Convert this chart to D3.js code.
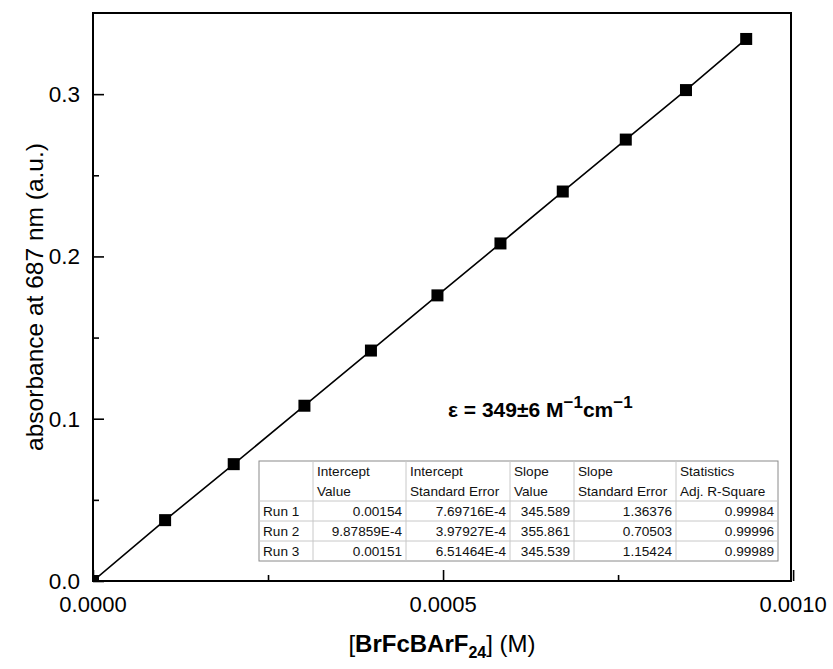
<!DOCTYPE html>
<html>
<head>
<meta charset="utf-8">
<script src="https://cdn.jsdelivr.net/npm/d3@7"></script>
<style>
  body { margin: 0; background: #ffffff; }
  svg { display: block; font-family: Arial, "Liberation Sans", sans-serif; }
</style>
</head>
<body>
<svg id="chart" width="833" height="669"></svg>
<script>
// ---- data ----
const concentration = [0, 0.000103, 0.000201, 0.000302, 0.000397, 0.000492, 0.000582, 0.000671, 0.000761, 0.000847, 0.000933];
const absorbance    = [0, 0.0375, 0.072, 0.108, 0.142, 0.176, 0.208, 0.240, 0.272, 0.3025, 0.334];

const xTicks = [0, 0.0005, 0.0010];
const xTickLabels = ["0.0000", "0.0005", "0.0010"];
const xMinorTicks = [0.00025, 0.00075];
const yTicks = [0, 0.1, 0.2, 0.3];
const yTickLabels = ["0.0", "0.1", "0.2", "0.3"];
const yMinorTicks = [0.05, 0.15, 0.25];

const tableHeader1 = ["", "Intercept", "Intercept", "Slope", "Slope", "Statistics"];
const tableHeader2 = ["", "Value", "Standard Error", "Value", "Standard Error", "Adj. R-Square"];
const tableRuns = ["Run 1", "Run 2", "Run 3"];
const interceptValue = ["0.00154", "9.87859E-4", "0.00151"];
const interceptSE = ["7.69716E-4", "3.97927E-4", "6.51464E-4"];
const slopeValue = ["345.589", "355.861", "345.539"];
const slopeSE = ["1.36376", "0.70503", "1.15424"];
const adjR2 = ["0.99984", "0.99996", "0.99989"];

// ---- layout ----
const svg = d3.select("#chart");
const L = 93, R = 791, T = 13, B = 581;
const x = d3.scaleLinear().domain([0, 0.000997]).range([L, R]);
const y = d3.scaleLinear().domain([0, 0.35]).range([B, T]);

// clip
svg.append("defs").append("clipPath").attr("id", "clip")
  .append("rect").attr("x", L).attr("y", T).attr("width", R - L).attr("height", B - T);

// line
const line = d3.line().x((d, i) => x(concentration[i])).y(d => y(d));
svg.append("path")
  .datum(absorbance)
  .attr("d", line)
  .attr("fill", "none")
  .attr("stroke", "#000")
  .attr("stroke-width", 1.6)
  .attr("clip-path", "url(#clip)");

// markers
const ms = 12;
svg.append("g").attr("clip-path", "url(#clip)")
  .selectAll("rect").data(absorbance).join("rect")
  .attr("x", (d, i) => x(concentration[i]) - ms / 2)
  .attr("y", d => y(d) - ms / 2)
  .attr("width", ms).attr("height", ms)
  .attr("fill", "#000");

// axes (ticks inward)
const xAxis = d3.axisBottom(x).tickValues(xTicks).tickSize(-11).tickPadding(0).tickFormat((d, i) => "");
const gx = svg.append("g").attr("transform", `translate(0,${B})`).call(xAxis);
gx.select(".domain").remove();
gx.selectAll(".tick line").attr("stroke", "#000").attr("stroke-width", 1.6);
svg.append("g").attr("transform", `translate(0,${B})`)
  .call(d3.axisBottom(x).tickValues(xMinorTicks).tickSize(-6).tickFormat(""))
  .call(g => g.select(".domain").remove())
  .call(g => g.selectAll(".tick line").attr("stroke", "#000").attr("stroke-width", 1.6));
svg.append("g").selectAll("text").data(xTicks).join("text")
  .attr("x", d => x(d)).attr("y", 612)
  .attr("text-anchor", "middle").attr("font-size", 22).attr("fill", "#000")
  .text((d, i) => xTickLabels[i]);

const yAxis = d3.axisLeft(y).tickValues(yTicks).tickSize(-11).tickFormat("");
const gy = svg.append("g").attr("transform", `translate(${L},0)`).call(yAxis);
gy.select(".domain").remove();
gy.selectAll(".tick line").attr("stroke", "#000").attr("stroke-width", 1.6);
svg.append("g").attr("transform", `translate(${L},0)`)
  .call(d3.axisLeft(y).tickValues(yMinorTicks).tickSize(-6).tickFormat(""))
  .call(g => g.select(".domain").remove())
  .call(g => g.selectAll(".tick line").attr("stroke", "#000").attr("stroke-width", 1.6));
svg.append("g").selectAll("text").data(yTicks).join("text")
  .attr("x", 80).attr("y", d => y(d) + 8)
  .attr("text-anchor", "end").attr("font-size", 22.5).attr("fill", "#000")
  .text((d, i) => yTickLabels[i]);

// frame
svg.append("rect").attr("x", L).attr("y", T).attr("width", R - L).attr("height", B - T)
  .attr("fill", "none").attr("stroke", "#000").attr("stroke-width", 2);

// axis titles
svg.append("text")
  .attr("transform", `translate(43,${(T + B) / 2}) rotate(-90)`)
  .attr("text-anchor", "middle").attr("font-size", 24.5).attr("fill", "#000")
  .text("absorbance at 687 nm (a.u.)");

const xt = svg.append("text").attr("x", (L + R) / 2).attr("y", 652)
  .attr("text-anchor", "middle").attr("font-size", 24).attr("fill", "#000");
xt.append("tspan").text("[");
xt.append("tspan").attr("font-weight", "bold").text("BrFcBArF");
xt.append("tspan").attr("font-weight", "bold").attr("font-size", 16).attr("dy", 6).text("24");
xt.append("tspan").attr("dy", -6).text("] (M)");

// epsilon annotation
const eps = svg.append("text").attr("x", 448).attr("y", 417)
  .attr("font-size", 21).attr("font-weight", "bold").attr("fill", "#000");
eps.append("tspan").text("ε = 349±6 M");
eps.append("tspan").attr("font-size", 17).attr("dy", -9).text("−1");
eps.append("tspan").attr("dy", 9).text("cm");
eps.append("tspan").attr("font-size", 17).attr("dy", -9).text("−1");

// table
const colW = [54, 93, 104, 64, 102, 102];
const tx0 = 259, ty0 = 461, rh = 20;
const colX = [tx0];
colW.forEach(w => colX.push(colX[colX.length - 1] + w));
const rows = [tableHeader1, tableHeader2].concat(tableRuns.map((r, i) =>
  [r, interceptValue[i], interceptSE[i], slopeValue[i], slopeSE[i], adjR2[i]]));
const tW = colX[colX.length - 1] - tx0, tH = rows.length * rh;
const tg = svg.append("g");
tg.append("rect").attr("x", tx0).attr("y", ty0).attr("width", tW).attr("height", tH)
  .attr("fill", "#fff").attr("stroke", "#8a8a8a").attr("stroke-width", 1);
// vertical lines
tg.selectAll("line.v").data(colX.slice(1, -1)).join("line")
  .attr("x1", d => d).attr("x2", d => d).attr("y1", ty0).attr("y2", ty0 + tH)
  .attr("stroke", "#c8c8c8").attr("stroke-width", 1);
// horizontal lines
tg.selectAll("line.h").data([2, 3, 4]).join("line")
  .attr("x1", tx0).attr("x2", tx0 + tW).attr("y1", d => ty0 + d * rh).attr("y2", d => ty0 + d * rh)
  .attr("stroke", "#c8c8c8").attr("stroke-width", 1);
rows.forEach((row, ri) => {
  row.forEach((cell, ci) => {
    const numeric = ri >= 2 && ci > 0;
    tg.append("text")
      .attr("x", numeric ? colX[ci + 1] - 4 : colX[ci] + 4)
      .attr("y", ty0 + ri * rh + 15)
      .attr("text-anchor", numeric ? "end" : "start")
      .attr("font-size", 13.6).attr("fill", "#111")
      .text(cell);
  });
});
</script>
</body>
</html>
